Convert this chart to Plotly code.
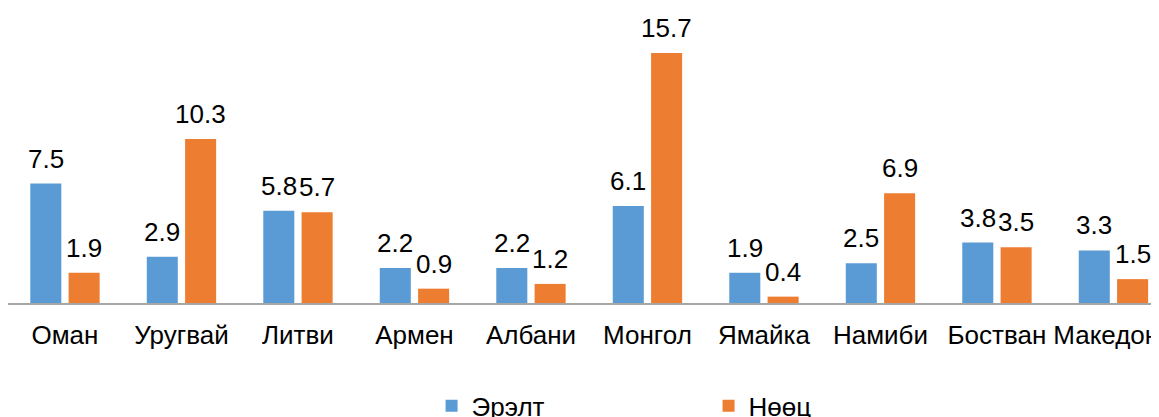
import plotly.graph_objects as go

categories = ["Оман", "Уругвай", "Литви", "Армен", "Албани", "Монгол", "Ямайка", "Намиби", "Бостван", "Македони"]
demand = [7.5, 2.9, 5.8, 2.2, 2.2, 6.1, 1.9, 2.5, 3.8, 3.3]
reserve = [1.9, 10.3, 5.7, 0.9, 1.2, 15.7, 0.4, 6.9, 3.5, 1.5]
series_names = ["Эрэлт", "Нөөц"]
colors = ["#5B9BD5", "#ED7D31"]

FONT = "Liberation Sans, Arial, sans-serif"

fig = go.Figure()
for name, vals, col in zip(series_names, [demand, reserve], colors):
    fig.add_trace(go.Bar(name=name, x=categories, y=vals, marker=dict(color=col, line=dict(width=0))))

# value labels above bars
offset_px = 19.2
for vals, sh in [(demand, -offset_px), (reserve, offset_px)]:
    for c, v in zip(categories, vals):
        fig.add_annotation(x=c, y=v, text=f"{v:.1f}", showarrow=False, xref="x", yref="y",
                           yanchor="bottom", xanchor="center", xshift=sh, yshift=8,
                           font=dict(family=FONT, size=26, color="#000000"))

fig.update_layout(
    width=1151, height=409,
    margin=dict(l=0, r=0, t=0, b=114, autoexpand=False),
    plot_bgcolor="white", paper_bgcolor="white",
    barmode="group", bargap=0.342, bargroupgap=0.19,
    font=dict(family=FONT, size=26, color="#000000"),
    showlegend=True,
    legend=dict(orientation="h", x=0.368, xanchor="left", yref="container", y=0.027, yanchor="middle",
                entrywidth=232, entrywidthmode="pixels", itemwidth=30,
                font=dict(family=FONT, size=26, color="#000000"),
                bgcolor="rgba(0,0,0,0)"),
)
fig.update_xaxes(range=[-0.489, 9.391], showline=True, linecolor="#A6A6A6", linewidth=1.5,
                 ticks="", showgrid=False, zeroline=False, ticklabelstandoff=8, automargin=False,
                 tickfont=dict(family=FONT, size=26, color="#000000"))
fig.update_yaxes(range=[0, 18.53], visible=False, showgrid=False, zeroline=False, automargin=False)

fig.write_html("out.html")
